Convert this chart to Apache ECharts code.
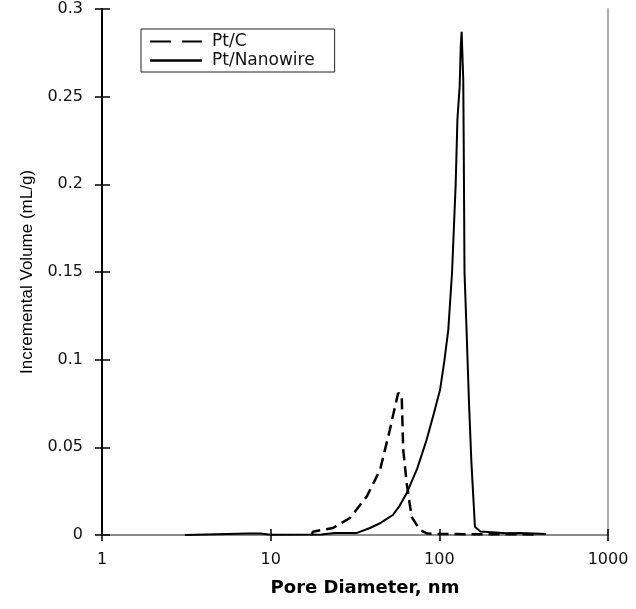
<!DOCTYPE html>
<html>
<head>
<meta charset="utf-8">
<script src="https://cdn.jsdelivr.net/npm/echarts@6/dist/echarts.min.js"></script>
<style>
html,body{margin:0;padding:0;background:#fff;}
#chart{width:636px;height:609px;}
</style>
</head>
<body>
<div id="chart"></div>
<script>
// Pore diameter (nm) and incremental volume (mL/g)
var ptcDiameter = [17.5, 17.8, 23.4, 29.5, 37.1, 44.5, 50.9, 54.6, 57.0, 59.8, 60.4, 61.1, 64, 68.5, 76.7, 85, 100, 120, 150, 250, 390];
var ptcVolume   = [0, 0.0019, 0.004, 0.0097, 0.0219, 0.0371, 0.060, 0.0732, 0.0809, 0.080, 0.065, 0.0485, 0.0297, 0.0104, 0.0029, 0.0008, 0.0006, 0.0006, 0.0004, 0.0005, 0.0003];

var nanowireDiameter = [3.1, 7.3, 8.7, 10, 20, 24, 32.5, 38.8, 44.5, 48, 53, 58, 64, 74, 84, 92, 101, 107, 113, 119, 125, 128, 132, 134, 135.6, 138.6, 139.5, 141, 145, 150, 155, 162.6, 175, 250, 300, 430];
var nanowireVolume   = [0, 0.0008, 0.0008, 0.0002, 0.0003, 0.0012, 0.0012, 0.004, 0.0067, 0.0088, 0.0114, 0.0165, 0.0238, 0.038, 0.0542, 0.068, 0.0828, 0.099, 0.117, 0.15, 0.2, 0.237, 0.256, 0.279, 0.287, 0.26, 0.224, 0.15, 0.117, 0.075, 0.041, 0.0047, 0.002, 0.001, 0.0012, 0.0005];

var xTicks = [1, 10, 100, 1000];
var yTicks = [0, 0.05, 0.1, 0.15, 0.2, 0.25, 0.3];

function pairs(xs, ys){ return xs.map(function(x,i){ return [x, ys[i]]; }); }

var chart = echarts.init(document.getElementById('chart'), null, {renderer:'canvas'});
var labelFont = {fontFamily:'DejaVu Sans', fontSize:16, color:'#111'};

chart.setOption({
  animation:false,
  backgroundColor:'#fff',
  grid: {left:102, right:28, top:9, bottom:74},
  legend: {
    orient:'vertical',
    left:141, top:29,
    padding:[4,20,3,9],
    borderColor:'#222', borderWidth:1,
    itemWidth:52, itemHeight:14, itemGap:2,
    symbolKeepAspect:true,
    textStyle:{fontFamily:'DejaVu Sans', fontSize:17, color:'#111', padding:[0,0,0,5]},
    data:[
      {name:'Pt/C', icon:'path://M0,0h21v2h-21z M32,0h20v2h-20z', itemStyle:{color:'#000'}},
      {name:'Pt/Nanowire', icon:'path://M0,0h52v2.4h-52z', itemStyle:{color:'#000'}}
    ]
  },
  xAxis: [
    {
      type:'log', logBase:10, min:xTicks[0], max:xTicks[xTicks.length-1],
      position:'bottom',
      axisLine:{show:true, lineStyle:{color:'#666', width:1.5}},
      axisTick:{show:true, inside:false, length:6, lineStyle:{color:'#000', width:1.5}},
      axisLabel:Object.assign({margin:17, formatter:function(v){ return String(v); }}, labelFont),
      splitLine:{show:false},
      minorTick:{show:false},
      name:'Pore Diameter, nm', nameLocation:'middle', nameGap:44,
      nameTextStyle:{fontFamily:'DejaVu Sans', fontWeight:'bold', fontSize:18, color:'#000', padding:[0,0,0,20]}
    },
    {
      type:'log', logBase:10, min:xTicks[0], max:xTicks[xTicks.length-1],
      position:'bottom',
      axisLine:{show:false},
      axisTick:{show:true, inside:true, length:6, lineStyle:{color:'#000', width:1.5}},
      axisLabel:{show:false},
      splitLine:{show:false}
    }
  ],
  yAxis: [
    {
      type:'value', min:yTicks[0], max:yTicks[yTicks.length-1], interval:0.05,
      position:'left',
      axisLine:{show:true, lineStyle:{color:'#000', width:2}},
      axisTick:{show:true, inside:false, length:7, lineStyle:{color:'#000', width:1.5}},
      axisLabel:Object.assign({margin:19}, labelFont),
      splitLine:{show:false},
      name:'Incremental Volume (mL/g)', nameLocation:'middle', nameGap:66,
      nameTextStyle:{fontFamily:'Liberation Sans', fontSize:17, color:'#000'}
    },
    {
      type:'value', min:yTicks[0], max:yTicks[yTicks.length-1], interval:0.05,
      position:'left',
      axisLine:{show:false},
      axisTick:{show:true, inside:true, length:8, lineStyle:{color:'#000', width:1.5}},
      axisLabel:{show:false},
      splitLine:{show:false}
    },
    {
      type:'value', min:yTicks[0], max:yTicks[yTicks.length-1], interval:0.05,
      position:'right',
      axisLine:{show:true, lineStyle:{color:'#aaa', width:2}},
      axisTick:{show:false},
      axisLabel:{show:false},
      splitLine:{show:false}
    }
  ],
  series: [
    {
      name:'Pt/C', type:'line', xAxisIndex:0, yAxisIndex:0,
      data:pairs(ptcDiameter, ptcVolume),
      showSymbol:false, symbol:'none',
      lineStyle:{color:'#000', width:2.5, type:[11,6]},
      itemStyle:{color:'#000'},
      z:3
    },
    {
      name:'Pt/Nanowire', type:'line', xAxisIndex:0, yAxisIndex:0,
      data:pairs(nanowireDiameter, nanowireVolume),
      showSymbol:false, symbol:'none',
      lineStyle:{color:'#000', width:2, type:'solid'},
      itemStyle:{color:'#000'},
      z:4
    }
  ]
});
</script>
</body>
</html>
